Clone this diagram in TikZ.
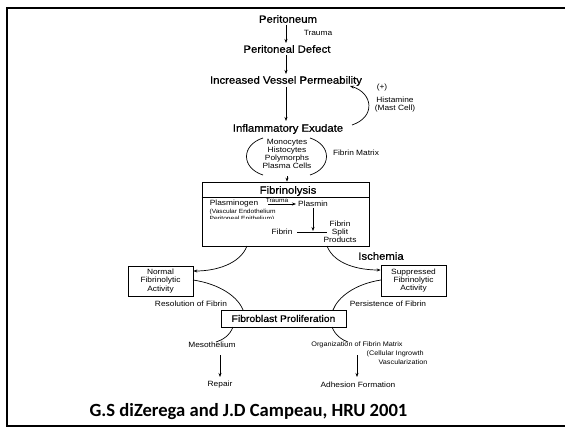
\documentclass[tikz,border=0pt]{standalone}
\usepackage{fontspec}
\setmainfont{Liberation Sans}
\newfontfamily\dg[FakeStretch=1.1]{Liberation Sans}
\newfontfamily\dgb[FakeStretch=1.08,FakeBold=0.8]{Liberation Sans}
\newfontfamily\carlito{Carlito}
\usetikzlibrary{arrows.meta,calc}
\begin{document}
\begin{tikzpicture}[x=1pt,y=-1pt,
  big/.style={font=\dgb\fontsize{10.5}{11}\selectfont, inner sep=1pt},
  sm/.style={font=\dg\fontsize{7.6}{8.2}\selectfont, inner sep=0.5pt, align=center},
  tiny/.style={font=\dg\fontsize{6}{6.5}\selectfont, inner sep=0.5pt},
  ln/.style={line width=0.7pt},
  arr/.style={ln,-{Stealth[length=4pt,width=3pt]}},
  boxed/.style={draw, line width=0.7pt, inner sep=0pt, align=center}]
\useasboundingbox (0,0) rectangle (565,428);
% frame
\draw[line width=2pt] (565,8) -- (7,8) -- (7,426) -- (565,426);
% top chain
\node[big] (per) at (288,19) {Peritoneum};
\node[sm] (trauma) at (318,33) {Trauma};
\node[big] (def) at (287,49) {Peritoneal Defect};
\node[big] (perm) at (286,81) {Increased Vessel Permeability};
\node[big] (exu) at (288,129) {Inflammatory Exudate};
\coordinate (c1) at (286,25);
\coordinate (c2) at (286,43);
\coordinate (c3) at (286,55);
\coordinate (c4) at (286,74);
\coordinate (c5) at (286,87);
\coordinate (c6) at (286,121);
\draw[arr] (c1) -- (c2);
\draw[arr] (c3) -- (c4);
\draw[arr] (c5) -- (c6);
% histamine loop
\coordinate (h1) at (352,125);
\coordinate (h2) at (350,86);
\draw[arr] (h1) .. controls (376,117) and (373,93) .. (h2);
\node[sm] (plus) at (382,88) {(+)};
\node[sm] (hist) at (395,99.5) {Histamine};
\node[sm] (mast) at (395,109) {(Mast Cell)};
% cells
\node[sm] (cells) at (287,154) {Monocytes\\Histocytes\\Polymorphs\\Plasma Cells};
\draw[ln] (263,138) .. controls (241,145) and (241,168) .. (263,175);
\draw[ln] (310,138) .. controls (332,145) and (332,168) .. (310,175);
\node[sm] (matrix) at (356,153) {Fibrin Matrix};
% fibrinolysis box
\node[draw, line width=0.7pt, minimum width=167pt, minimum height=64pt, inner sep=0pt] (fbox) at (285.5,214) {};
\coordinate (c7) at (287,176);
\draw[arr] (c7) -- (c7 |- fbox.north);
\node[big] (fibl) at (288,191) {Fibrinolysis};
\draw[ln] ($(fbox.north west)+(0,16)$) -- ($(fbox.north east)+(0,16)$);
\node[sm] (plg) at (234,204) {Plasminogen};
\node[tiny] (tr2) at (277,200) {Trauma};
\coordinate (t1) at (268,204);
\coordinate (t2) at (296,204);
\draw[arr] (t1) -- (t2);
\node[sm] (plm) at (313,204) {Plasmin};
\node[tiny, anchor=west] (vasc) at (209,212) {(Vascular Endothelium};
\begin{scope}
\clip (200,215.6) rectangle (300,218.6);
\node[tiny, anchor=west] (epi) at (209,219) {Peritoneal Epithelium)};
\end{scope}
\coordinate (v1) at (313,208);
\coordinate (v2) at (313,231);
\draw[arr] (v1) -- (v2);
\node[sm] (fibrin) at (282,232) {Fibrin};
\coordinate (f1) at (297,232);
\coordinate (f2) at (327,232);
\draw[ln] (f1) -- (f2);
\node[sm] (fsp) at (340,232) {Fibrin\\Split\\Products};
% side boxes
\node[boxed, sm, minimum width=65pt, minimum height=30pt] (normal) at (160.5,281) {Normal\\Fibrinolytic\\Activity};
\node[boxed, sm, minimum width=65pt, minimum height=31pt] (supp) at (413.5,280.5) {Suppressed\\Fibrinolytic\\Activity};
\coordinate (b1) at (247,246);
\coordinate (b2) at (327,246);
\draw[arr] (b1) .. controls (240,264) and (216,271) .. (normal.east |- 0,271);
\draw[arr] (b2) .. controls (334,264) and (358,270) .. (supp.west |- 0,270);
\node[big] (isch) at (381,256) {Ischemia};
% fibroblast
\node[boxed, font=\dgb\fontsize{9.6}{10}\selectfont, minimum width=125pt, minimum height=17pt] (fibro) at (283.5,318.5) {Fibroblast Proliferation};
\coordinate (n1) at (193,280);
\coordinate (n2) at (243,310);
\draw[ln] (n1) .. controls (220,284) and (238,297) .. (n2);
\coordinate (s1) at (381,280);
\coordinate (s2) at (333,310);
\draw[ln] (s1) .. controls (355,284) and (338,297) .. (s2);
\node[sm] (resol) at (191,304) {Resolution of Fibrin};
\node[sm] (pers) at (388,304) {Persistence of Fibrin};
% lower
\coordinate (d1) at (233,327);
\coordinate (d2) at (216,342);
\draw[ln] (d1) .. controls (230,335) and (223,340) .. (d2);
\coordinate (e1) at (332,327);
\coordinate (e2) at (348,342);
\draw[ln] (e1) .. controls (335,335) and (342,340) .. (e2);
\node[sm] (meso) at (212,345) {Mesothelium};
\node[font=\dg\fontsize{6.6}{7}\selectfont, inner sep=0.5pt] (org) at (357,345) {Organization of Fibrin Matrix};
\node[font=\dg\fontsize{6.6}{7}\selectfont, inner sep=0.5pt, anchor=west] (cell) at (366,354) {(Cellular Ingrowth};
\node[font=\dg\fontsize{6.6}{7}\selectfont, inner sep=0.5pt] (vascz) at (403,362) {Vascularization};
\coordinate (r1) at (220,355);
\coordinate (r2) at (220,377);
\draw[arr] (r1) -- (r2);
\coordinate (a1) at (357,355);
\coordinate (a2) at (357,377);
\draw[arr] (a1) -- (a2);
\node[sm] (repair) at (220,385) {Repair};
\node[sm] (adh) at (358,385) {Adhesion Formation};
% citation
\node[font=\carlito\bfseries\fontsize{18.6}{20}\selectfont, inner sep=0pt] (cite) at (248.5,412) {G.S diZerega and J.D Campeau, HRU 2001};
\end{tikzpicture}
\end{document}
